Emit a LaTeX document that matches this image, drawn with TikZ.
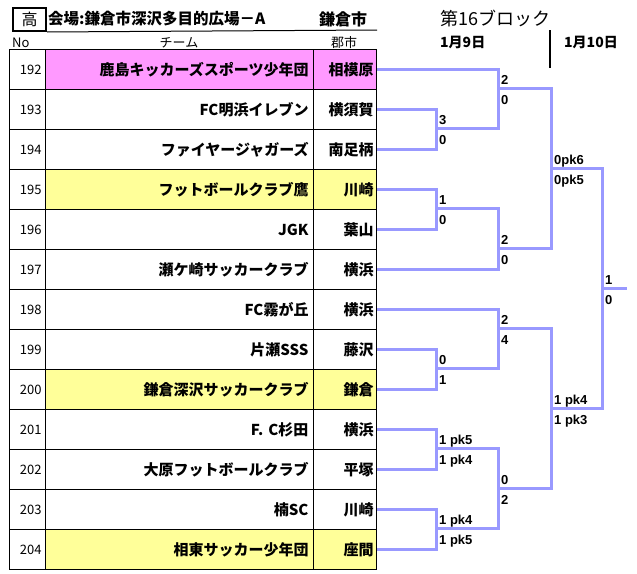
\documentclass[tikz,border=0pt]{standalone}
\usepackage{fontspec}
\setmainfont{Noto Sans CJK JP}
\newfontfamily\latinf{Liberation Sans}
\usetikzlibrary{calc}
\definecolor{pinkc}{HTML}{FF99FF}
\definecolor{yellowc}{HTML}{FFFF99}
\definecolor{brc}{HTML}{9999FF}
\begin{document}
\begin{tikzpicture}[x=1pt,y=-1pt,
  cellbase/.style={draw=black, line width=1pt, anchor=north west, minimum height=40pt, inner ysep=0pt},
  nocell/.style={cellbase, text width=28pt, inner xsep=4pt, align=right, font=\fontsize{13}{13}\selectfont},
  teamcell/.style={cellbase, text width=258pt, inner xsep=5pt, align=right, font=\bfseries\fontsize{15}{15}\selectfont},
  citycell/.style={cellbase, text width=57pt, inner xsep=3pt, align=right, font=\bfseries\fontsize{15}{15}\selectfont},
  head/.style={inner sep=0pt, font=\fontsize{13}{13}\selectfont},
  br/.style={draw=brc, line width=3pt},
  score/.style={anchor=base west, inner sep=0pt, font=\latinf\bfseries\fontsize{13}{13}\selectfont}]
\useasboundingbox[fill=white] (0,0) rectangle (637,573);
% header
\node[draw=black, line width=2pt, minimum width=33pt, minimum height=23pt, anchor=north west, inner sep=0pt, font=\fontsize{16}{16}\selectfont] (kou) at (12,7) {高};
\node[anchor=west, inner sep=0pt, font=\bfseries\fontsize{15.5}{15.5}\selectfont] (title) at (48,19) {会場:鎌倉市深沢多目的広場－A};
\node[anchor=west, inner sep=0pt, font=\bfseries\fontsize{16}{16}\selectfont] (city0) at (319,19) {鎌倉市};
\coordinate (ulA) at (kou.south east);
\coordinate (ulB) at (377,30);
\draw[line width=1pt] (ulA) -- (ulB);
\node[anchor=west, inner sep=0pt, font=\fontsize{18}{18}\selectfont] (block) at (440,19) {第16ブロック};
\node[anchor=west, inner sep=0pt, font=\bfseries\fontsize{14}{14}\selectfont] (day1) at (440,42) {1月9日};
\node[anchor=west, inner sep=0pt, font=\bfseries\fontsize{14}{14}\selectfont] (day2) at (564,42) {1月10日};
\coordinate (vA) at (550,30);
\coordinate (vB) at (550,68);
\draw[line width=2pt] (vA) -- (vB);
\node[head, anchor=west] (hno) at (12,43) {No};
\node[head] (hteam) at (179,43) {チーム};
\node[head] (hcity) at (344,43) {郡市};
% table
\foreach \i/\num/\team/\city/\col in {
  1/192/鹿島キッカーズスポーツ少年団/相模原/pinkc,
  2/193/FC明浜イレブン/横須賀/white,
  3/194/ファイヤージャガーズ/南足柄/white,
  4/195/フットボールクラブ鷹/川崎/yellowc,
  5/196/JGK/葉山/white,
  6/197/瀬ケ崎サッカークラブ/横浜/white,
  7/198/FC霧が丘/横浜/white,
  8/199/片瀬SSS/藤沢/white,
  9/200/鎌倉深沢サッカークラブ/鎌倉/yellowc,
  10/201/F. C杉田/横浜/white,
  11/202/大原フットボールクラブ/平塚/white,
  12/203/楠SC/川崎/white,
  13/204/相東サッカー少年団/座間/yellowc}{
  \pgfmathsetmacro\ty{49+40*(\i-1)}
  \node[nocell] (no\i) at (9,\ty) {\num};
  \node[teamcell, fill=\col] (team\i) at (45,\ty) {\team};
  \node[citycell, fill=\col] (city\i) at (313,\ty) {\city};
}
% bracket junctions
\coordinate (m1) at (436,128);
\coordinate (m2) at (498,88);
\coordinate (m3) at (436,208);
\coordinate (m4) at (498,248);
\coordinate (s1) at (551,168);
\coordinate (m5) at (436,368);
\coordinate (m6) at (498,328);
\coordinate (m7) at (436,448);
\coordinate (m8) at (436,528);
\coordinate (m9) at (498,488);
\coordinate (s2) at (551,408);
\coordinate (fin) at (602,288);
\coordinate (champ) at (627,288);
\draw[br] (city2.east) -| (m1) |- (city3.east);
\draw[br] (city1.east) -| (m2) |- (m1);
\draw[br] (city4.east) -| (m3) |- (city5.east);
\draw[br] (m3) -| (m4) |- (city6.east);
\draw[br] (m2) -| (s1) |- (m4);
\draw[br] (city8.east) -| (m5) |- (city9.east);
\draw[br] (city7.east) -| (m6) |- (m5);
\draw[br] (city10.east) -| (m7) |- (city11.east);
\draw[br] (city12.east) -| (m8) |- (city13.east);
\draw[br] (m7) -| (m9) |- (m8);
\draw[br] (m6) -| (s2) |- (m9);
\draw[br] (s1) -| (fin) |- (s2);
\draw[br] (fin) -- (champ);
% scores
\foreach \m/\u/\l in {m1/3/0, m2/2/0, m3/1/0, m4/2/0, s1/0pk6/0pk5, fin/1/0,
  m5/0/1, m6/2/4, m7/1 pk5/1 pk4, m8/1 pk4/1 pk5, m9/0/2, s2/1 pk4/1 pk3}{
  \node[score] (\m u) at ($(\m)+(3,-3.5)$) {\u};
  \node[score] (\m l) at ($(\m)+(3,16.5)$) {\l};
}
\end{tikzpicture}
\end{document}
